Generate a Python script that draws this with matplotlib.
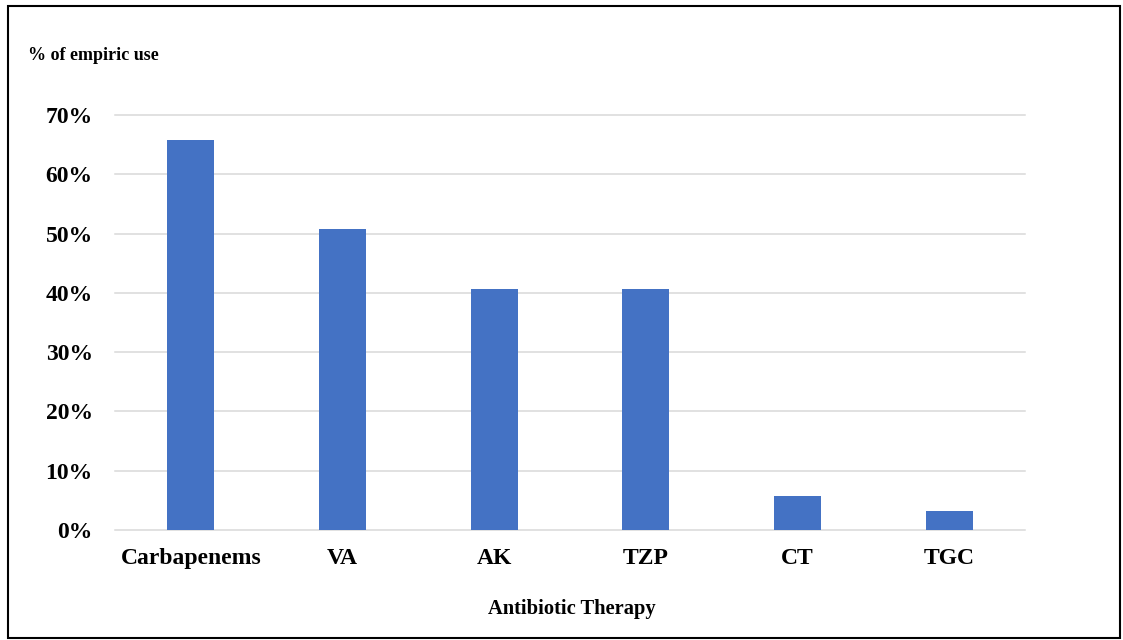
import matplotlib.pyplot as plt
from matplotlib.patches import Rectangle
from matplotlib.ticker import PercentFormatter

# datos
antibioticos = ['Carbapenems', 'VA', 'AK', 'TZP', 'CT', 'TGC']
uso_empirico = [0.657, 0.507, 0.406, 0.406, 0.057, 0.032]
ticks_y = [0, 0.1, 0.2, 0.3, 0.4, 0.5, 0.6, 0.7]

plt.rcParams['font.family'] = ['Liberation Serif', 'DejaVu Serif']
plt.rcParams['font.weight'] = 'bold'

fig = plt.figure(figsize=(11.23, 6.4), dpi=100)
ax = fig.add_axes([0.1024, 0.172, 0.8103, 0.6483])

ax.bar(antibioticos, uso_empirico, width=0.31, color='#4472C4', zorder=3)
ax.set_ylim(0, 0.7)
ax.set_xlim(-0.5, len(antibioticos) - 0.5)
ax.set_yticks(ticks_y)
ax.yaxis.set_major_formatter(PercentFormatter(1.0, decimals=0))
ax.grid(axis='y', color='#d9d9d9', linewidth=1.1, zorder=0)
for linea in ax.get_ygridlines():
    linea.set_clip_on(False)
for s in ['top', 'right', 'left', 'bottom']:
    ax.spines[s].set_visible(False)
ax.tick_params(axis='y', length=0, pad=16, labelsize=17)
ax.tick_params(axis='x', length=0, pad=13, labelsize=17)
for lab in ax.get_xticklabels() + ax.get_yticklabels():
    lab.set_fontweight('bold')

fig.text(0.025, 0.914, '% of empiric use', fontsize=13, fontweight='bold', va='center', ha='left')
fig.text(0.509, 0.048, 'Antibiotic Therapy', fontsize=14.8, fontweight='bold', va='center', ha='center')

# marco exterior
fig.patches.append(Rectangle((0.0075, 0.003), 0.9895, 0.9875, transform=fig.transFigure,
                             fill=False, edgecolor='black', linewidth=1.5))

fig.savefig('out.png', dpi=100)
